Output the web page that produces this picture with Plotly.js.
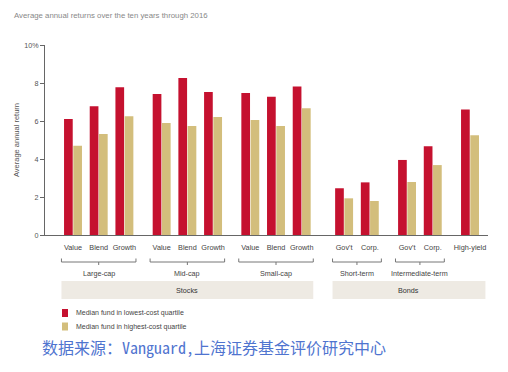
<!DOCTYPE html>
<html>
<head>
<meta charset="utf-8">
<script src="https://cdn.plot.ly/plotly-3.0.1.min.js"></script>
<style>html,body{margin:0;padding:0;background:#fff;}#chart{width:508px;height:372px;}</style>
</head>
<body>
<div id="chart"></div>
<script>
// ---- data ----
const subcats = ['Value','Blend','Growth','Value','Blend','Growth','Value','Blend','Growth',"Gov't",'Corp.',"Gov't",'Corp.','High-yield'];
const groupNames = ['Large-cap','Mid-cap','Small-cap','Short-term','Intermediate-term',''];
const groupOf = [0,0,0,1,1,1,2,2,2,3,3,4,4,5];
const sectorNames = ['Stocks','Bonds'];
const sectorOfGroup = [0,0,0,1,1,1];
const lowCost  = [6.10,6.77,7.77,7.42,8.26,7.53,7.47,7.28,7.81,2.46,2.77,3.95,4.67,6.61];
const highCost = [4.70,5.32,6.25,5.90,5.74,6.21,6.05,5.74,6.67,1.93,1.79,2.79,3.68,5.25];
const seriesNames = ['Median fund in lowest-cost quartile','Median fund in highest-cost quartile'];
const yTickVals = [0,2,4,6,8,10];
const yTickText = ['0','2','4','6','8','10%'];
const titleText = 'Average annual returns over the ten years through 2016';
const yTitle = 'Average annual return';
const sourceText = '数据来源：Vanguard,上海证券基金评价研究中心';

// ---- layout helpers ----
const RED = '#C5112F', GOLD = '#D3BE7C';
const FONT = '"Liberation Sans Narrow","Arial Narrow","Liberation Sans",sans-serif';
const pos = subcats.map((c,i)=> i + 0.45*groupOf[i] + 0.2*sectorOfGroup[groupOf[i]]);
const W = 508, H = 372, L = 45, R = 20, T = 45, B = 137;
const pw = W-L-R, ph = H-T-B;
const py = p => (235 - p)/ph;      // pixel y -> paper y
const px = p => (p - L)/pw;        // pixel x -> paper x

const traces = [
  {type:'bar', x:pos, y:lowCost, name:seriesNames[0], marker:{color:RED}, showlegend:false, hoverinfo:'y'},
  {type:'bar', x:pos, y:highCost, name:seriesNames[1], marker:{color:GOLD}, showlegend:false, hoverinfo:'y'}
];

const shapes = [], annotations = [];
groupNames.forEach((g,gi)=>{
  const idx = pos.filter((p,i)=>groupOf[i]===gi);
  if(!g) return;
  const a = idx[0]-0.45, b = idx[idx.length-1]+0.45, m = (a+b)/2;
  const ln = {color:'#777', width:1};
  shapes.push({type:'line', xref:'x', yref:'paper', x0:a, x1:b, y0:py(262), y1:py(262), line:ln});
  shapes.push({type:'line', xref:'x', yref:'paper', x0:a, x1:a, y0:py(262), y1:py(258.5), line:ln});
  shapes.push({type:'line', xref:'x', yref:'paper', x0:b, x1:b, y0:py(262), y1:py(258.5), line:ln});
  shapes.push({type:'line', xref:'x', yref:'paper', x0:m, x1:m, y0:py(262), y1:py(265), line:ln});
  annotations.push({xref:'x', yref:'paper', x:m, y:py(273), text:g, showarrow:false,
    xanchor:'center', yanchor:'middle', font:{family:FONT, size:7.2, color:'#444'}});
});
sectorNames.forEach((s,si)=>{
  const idx = pos.filter((p,i)=>sectorOfGroup[groupOf[i]]===si);
  const a = idx[0]-0.45, b = idx[idx.length-1]+(si===1?0.6:0.45);
  shapes.push({type:'rect', xref:'x', yref:'paper', x0:a, x1:b, y0:py(299), y1:py(281),
    fillcolor:'#EEEAE3', line:{width:0}, layer:'below'});
  annotations.push({xref:'x', yref:'paper', x:(a+b)/2, y:py(290), text:s, showarrow:false,
    xanchor:'center', yanchor:'middle', font:{family:FONT, size:7.2, color:'#333'}});
});
// legend (drawn by hand to match small swatches)
[RED, GOLD].forEach((c,i)=>{
  const yc = 313 + i*13.5;
  shapes.push({type:'rect', xref:'paper', yref:'paper', x0:px(62), x1:px(68), y0:py(yc+4), y1:py(yc-4),
    fillcolor:c, line:{width:0}});
  annotations.push({xref:'paper', yref:'paper', x:px(74), y:py(yc), text:seriesNames[i], showarrow:false,
    xanchor:'left', yanchor:'middle', font:{family:FONT, size:7, color:'#444'}});
});
annotations.push({xref:'paper', yref:'paper', x:px(40), y:py(347), text:sourceText, showarrow:false,
  xanchor:'left', yanchor:'middle',
  font:{family:'"Noto Sans Mono CJK SC","Noto Sans CJK SC","DejaVu Sans Mono",monospace', size:16, color:'#4F74CF'}});

const layout = {
  width:W, height:H,
  margin:{l:L, r:R, t:T, b:B},
  paper_bgcolor:'#fff', plot_bgcolor:'#fff',
  title:{text:titleText, xref:'container', yref:'container', x:14/W, y:1-15/H, xanchor:'left', yanchor:'middle',
    font:{family:FONT, size:7.8, color:'#888'}},
  barmode:'group', bargap:0.28, bargroupgap:0.06,
  xaxis:{range:[-1.09,16.15], tickvals:pos, ticktext:subcats, showgrid:false, zeroline:false,
    showline:true, linecolor:'#666', linewidth:1, ticks:'outside', ticklen:5, tickcolor:'rgba(0,0,0,0)',
    tickfont:{family:FONT, size:7.3, color:'#444'}, fixedrange:true},
  yaxis:{range:[0,10], tickvals:yTickVals, ticktext:yTickText, showgrid:false, zeroline:false,
    showline:true, linecolor:'#666', linewidth:1, ticks:'outside', ticklen:4, tickcolor:'#666',
    tickfont:{family:FONT, size:7.2, color:'#555'},
    title:{text:yTitle, standoff:3, font:{family:FONT, size:7.5, color:'#555'}}, fixedrange:true},
  shapes:shapes, annotations:annotations
};
Plotly.newPlot('chart', traces, layout, {displayModeBar:false, staticPlot:true});
</script>
</body>
</html>
